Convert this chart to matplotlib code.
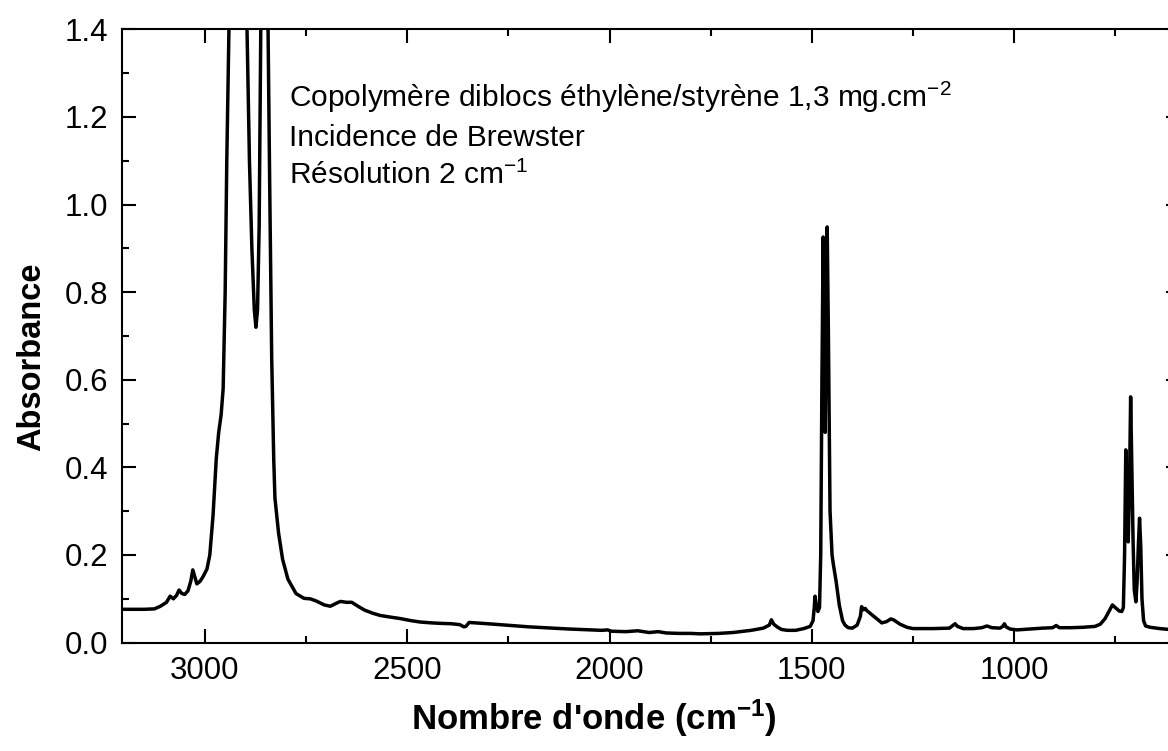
import matplotlib
matplotlib.use("Agg")
import matplotlib.pyplot as plt
from matplotlib.ticker import MultipleLocator

plt.rcParams['font.family'] = ['Liberation Sans', 'DejaVu Sans']
plt.rcParams['mathtext.fontset'] = 'custom'
plt.rcParams['mathtext.rm'] = 'Liberation Sans'
plt.rcParams['mathtext.bf'] = 'Liberation Sans:bold'
plt.rcParams['mathtext.it'] = 'Liberation Sans:italic'

# IR spectrum, wavenumber (cm-1) vs absorbance
wavenumber = [
    3205, 3150, 3125, 3110, 3095, 3086, 3078, 3070, 3064, 3057, 3050, 3042,
    3035, 3030, 3025, 3020, 3012, 3005, 2995, 2988, 2980, 2972, 2966, 2960,
    2955, 2950, 2946, 2940, 2930, 2920, 2905, 2896, 2890, 2884, 2878, 2874,
    2870, 2866, 2862, 2850, 2844, 2840, 2835, 2830, 2827, 2818, 2808, 2795,
    2775, 2755, 2740, 2725, 2705, 2690, 2675, 2665, 2650, 2637, 2620, 2605,
    2585, 2567, 2540, 2518, 2490, 2468, 2440, 2419, 2390, 2370, 2360, 2355,
    2347, 2330, 2300, 2271, 2200, 2100, 2019, 2005, 1996, 1960, 1930, 1902,
    1880, 1860, 1828, 1800, 1776, 1730, 1695, 1650, 1620, 1605, 1600, 1594,
    1586, 1575, 1561, 1540, 1520, 1504, 1497, 1494, 1492, 1489, 1485, 1481,
    1478, 1475, 1472, 1470, 1467, 1465, 1462, 1459, 1455, 1450, 1447, 1440,
    1432, 1424, 1418, 1410, 1400, 1388, 1380, 1377, 1372, 1368, 1364, 1356,
    1347, 1339, 1327, 1315, 1305, 1298, 1282, 1265, 1250, 1200, 1160, 1150,
    1146, 1140, 1126, 1100, 1080, 1067, 1055, 1035, 1028, 1024, 1020, 1010,
    993, 960, 930, 905, 896, 888, 860, 829, 800, 787, 775, 765,
    757, 750, 740, 734, 730, 727, 724, 721, 718, 715, 712, 709,
    706, 703, 699, 696, 693, 690, 687, 684, 680, 675, 664, 640,
    619, 590,
]
absorbance = [
    0.076, 0.076, 0.077, 0.083, 0.092, 0.106, 0.100, 0.108, 0.120, 0.112, 0.110, 0.118,
    0.140, 0.166, 0.150, 0.134, 0.140, 0.150, 0.168, 0.200, 0.290, 0.420, 0.480, 0.520,
    0.580, 0.800, 1.100, 1.450, 1.800, 1.900, 1.750, 1.400, 1.100, 0.900, 0.760, 0.720,
    0.760, 0.950, 1.400, 1.850, 1.400, 1.050, 0.650, 0.420, 0.330, 0.250, 0.190, 0.145,
    0.112, 0.101, 0.100, 0.095, 0.086, 0.083, 0.090, 0.094, 0.092, 0.092, 0.082, 0.074,
    0.067, 0.062, 0.058, 0.055, 0.050, 0.047, 0.045, 0.044, 0.043, 0.041, 0.036, 0.037,
    0.046, 0.045, 0.043, 0.041, 0.036, 0.031, 0.028, 0.029, 0.026, 0.025, 0.027, 0.023,
    0.025, 0.022, 0.021, 0.021, 0.020, 0.021, 0.023, 0.028, 0.033, 0.040, 0.052, 0.042,
    0.036, 0.030, 0.028, 0.028, 0.032, 0.037, 0.050, 0.080, 0.106, 0.085, 0.071, 0.080,
    0.200, 0.600, 0.926, 0.750, 0.480, 0.700, 0.949, 0.700, 0.300, 0.200, 0.180, 0.140,
    0.085, 0.050, 0.040, 0.034, 0.033, 0.040, 0.060, 0.082, 0.075, 0.078, 0.073, 0.067,
    0.060, 0.054, 0.045, 0.048, 0.054, 0.052, 0.042, 0.035, 0.032, 0.032, 0.033, 0.040,
    0.043, 0.037, 0.032, 0.032, 0.034, 0.038, 0.034, 0.033, 0.037, 0.043, 0.036, 0.031,
    0.029, 0.031, 0.033, 0.034, 0.039, 0.034, 0.034, 0.035, 0.037, 0.042, 0.055, 0.072,
    0.086, 0.080, 0.072, 0.071, 0.080, 0.200, 0.440, 0.350, 0.230, 0.350, 0.561, 0.400,
    0.234, 0.120, 0.093, 0.140, 0.220, 0.284, 0.220, 0.100, 0.050, 0.038, 0.035, 0.032,
    0.030, 0.030,
]

info_lines = [
    "Copolymère diblocs éthylène/styrène 1,3 mg.cm$^{-2}$",
    "Incidence de Brewster",
    "Résolution 2 cm$^{-1}$",
]

fig = plt.figure(figsize=(11.68, 7.51), dpi=100)
# right spine sits just past the edge of the figure
ax = fig.add_axes([122 / 1168, 108.4 / 751, 1058 / 1168, 613.2 / 751])

ax.plot(wavenumber, absorbance, color='black', lw=2.5)

ax.set_xlim(3205, 590)
ax.set_ylim(0, 1.4)
ax.xaxis.set_major_locator(MultipleLocator(500))
ax.xaxis.set_minor_locator(MultipleLocator(250))
ax.yaxis.set_major_locator(MultipleLocator(0.2))
ax.yaxis.set_minor_locator(MultipleLocator(0.1))
ax.yaxis.set_major_formatter(lambda v, p: f"{v:.1f}")

ax.tick_params(which='both', direction='in', top=True, right=True, width=1.5,
               labelsize=22.5)
ax.tick_params(which='major', length=10, pad=10)
ax.tick_params(which='minor', length=5)
for s in ax.spines.values():
    s.set_linewidth(1.5)

ax.set_xlabel("Nombre d'onde (cm$^{\\mathbf{-1}}$)", fontsize=25,
              fontweight='bold')
ax.xaxis.set_label_coords(0.446, -0.089, transform=ax.transAxes)
ax.set_ylabel("Absorbance", fontsize=23.5, fontweight='bold')
ax.yaxis.set_label_coords(-0.071, 0.466, transform=ax.transAxes)

y0 = 107
for i, line in enumerate(info_lines):
    fig.text(289 / 1168, 1 - (y0 + 38.5 * i) / 751, line, fontsize=21.5,
             va='baseline', ha='left')

fig.savefig("out.png", dpi=100, facecolor='white')
